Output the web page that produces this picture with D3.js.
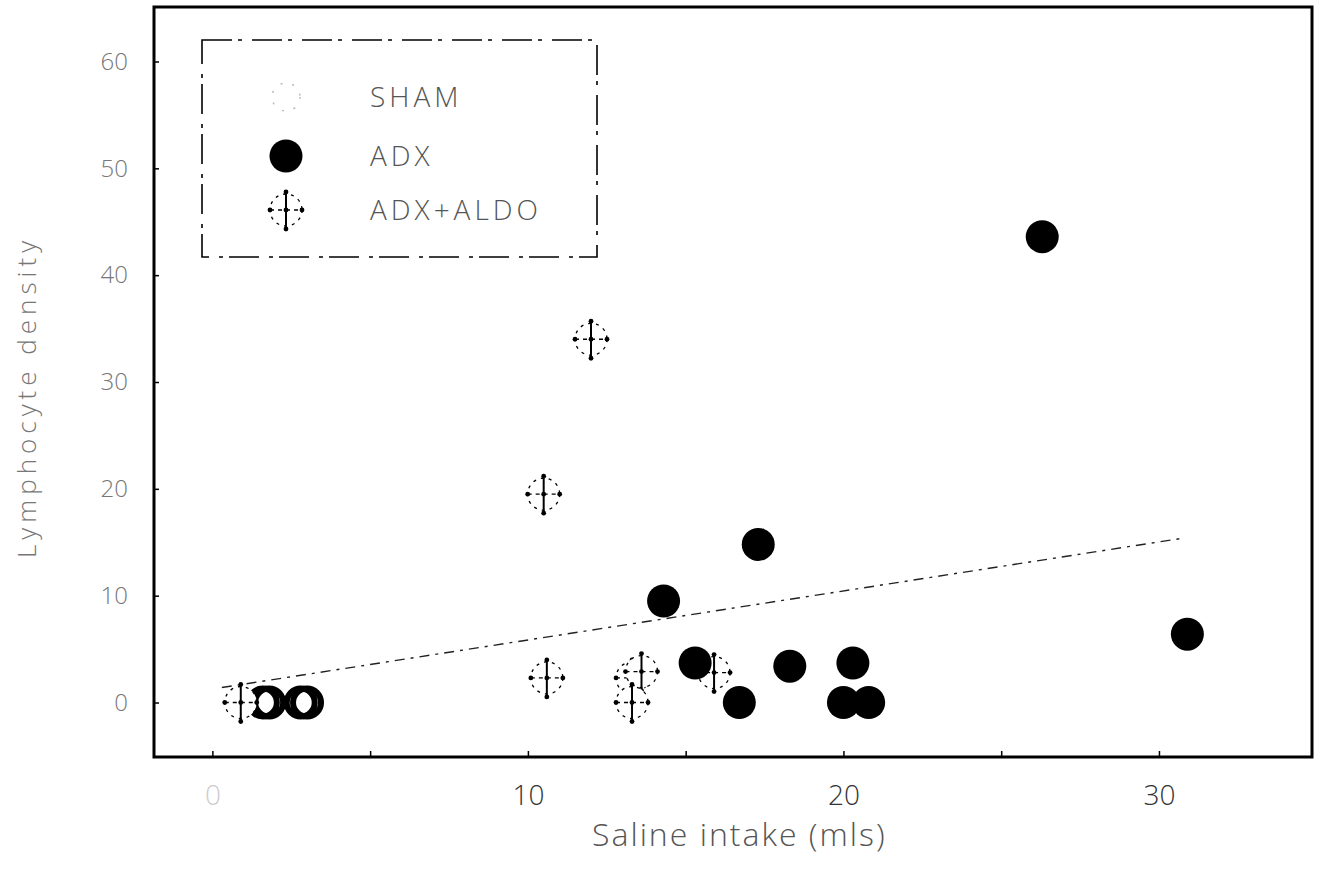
<!DOCTYPE html>
<meta charset="utf-8">
<style>
  body { margin: 0; background: #fff; }
  text { font-family: "Open Sans", "DejaVu Sans", sans-serif; font-weight: 300; fill: #444; }
  .frame { fill: none; stroke: #000; stroke-width: 3px; }
  .axis path { display: none; }
  .axis line { stroke: #000; stroke-width: 1.5px; }
  .axis text { font-size: 28px; }
</style>
<svg width="1321" height="874"></svg>
<script src="https://cdn.jsdelivr.net/npm/d3@7"></script>
<script>

// values
var shamX = [1.6, 1.8, 2.8, 3.0],
    shamY = [0, 0, 0, 0];

var adxX = [26.3, 30.9, 17.3, 14.3, 15.3, 16.7, 18.3, 20.3, 20.0, 20.8],
    adxY = [43.6, 6.4, 14.8, 9.5, 3.7, 0, 3.4, 3.7, 0, 0];

var aldoX = [12.0, 10.5, 10.6, 13.3, 13.6, 13.3, 15.9, 0.9],
    aldoY = [34.0, 19.5, 2.3, 2.3, 2.9, 0, 2.8, 0];

var fitX = [0.3, 30.8],
    fitY = [1.4, 15.4];

var xTicks = [0, 5, 10, 15, 20, 25, 30],
    xLabels = ["0", "", "10", "", "20", "", "30"];
var yTicks = [0, 10, 20, 30, 40, 50, 60],
    yLabels = ["0", "10", "20", "30", "40", "50", "60"];

var legendNames = ["SHAM", "ADX", "ADX+ALDO"];

var svg = d3.select("svg"),
    margin = {top: 7, right: 9, bottom: 117, left: 154},
    width = +svg.attr("width") - margin.left - margin.right,
    height = +svg.attr("height") - margin.top - margin.bottom,
    g = svg.append("g").attr("transform", "translate(" + margin.left + "," + margin.top + ")");

var x = d3.scaleLinear().domain([-1.85, 34.85]).range([0, width]);
var y = d3.scaleLinear().domain([-5.1, 65.1]).range([height, 0]);

g.append("g")
    .attr("class", "axis")
    .attr("transform", "translate(0," + height + ")")
    .call(d3.axisBottom(x).tickValues(xTicks).tickSize(-6).tickPadding(28)
        .tickFormat(function(d, i) { return xLabels[i]; }))
  .selectAll("text")
    .style("fill", function(d) { return d === 0 ? "#ccc" : "#333"; });

g.append("g")
    .attr("class", "axis")
    .call(d3.axisLeft(y).tickValues(yTicks).tickSize(-5).tickPadding(26)
        .tickFormat(function(d, i) { return yLabels[i]; }))
  .selectAll("text")
    .style("font-size", "24px")
    .style("fill", "#777");

g.append("rect")
    .attr("class", "frame")
    .attr("width", width)
    .attr("height", height);

// regression line
g.append("path")
    .datum(d3.zip(fitX, fitY))
    .attr("fill", "none")
    .attr("stroke", "#222")
    .attr("stroke-width", 1.4)
    .attr("stroke-dasharray", "10,6,3,6")
    .attr("d", d3.line().x(function(d) { return x(d[0]); }).y(function(d) { return y(d[1]); }));

function drawSham(sel) {
  sel.append("circle").attr("r", 14)
      .attr("fill", "none").attr("stroke", "#000").attr("stroke-width", 6);
}
function drawAdx(sel) {
  sel.append("circle").attr("r", 16.5).attr("fill", "#000");
}
function drawAldo(sel) {
  sel.append("circle").attr("r", 16)
      .attr("fill", "#fff").attr("stroke", "#000").attr("stroke-width", 1.3)
      .attr("stroke-dasharray", "3,5");
  sel.append("line").attr("x1", 0).attr("x2", 0).attr("y1", -18).attr("y2", 19)
      .attr("stroke", "#000").attr("stroke-width", 2);
  sel.append("line").attr("x1", -16).attr("x2", 16).attr("y1", 0).attr("y2", 0)
      .attr("stroke", "#000").attr("stroke-width", 1.3).attr("stroke-dasharray", "4,4");
  [[0, -18], [0, 0], [0, 19], [-16, 0], [16, 0]].forEach(function(p) {
    sel.append("circle").attr("cx", p[0]).attr("cy", p[1]).attr("r", 2.4).attr("fill", "#000");
  });
}

g.append("g").selectAll("g")
    .data(d3.zip(shamX, shamY))
  .enter().append("g")
    .attr("transform", function(d) { return "translate(" + x(d[0]) + "," + y(d[1]) + ")"; })
    .each(function() { drawSham(d3.select(this)); });

g.append("g").selectAll("g")
    .data(d3.zip(aldoX, aldoY))
  .enter().append("g")
    .attr("transform", function(d) { return "translate(" + x(d[0]) + "," + y(d[1]) + ")"; })
    .each(function() { drawAldo(d3.select(this)); });

g.append("g").selectAll("g")
    .data(d3.zip(adxX, adxY))
  .enter().append("g")
    .attr("transform", function(d) { return "translate(" + x(d[0]) + "," + y(d[1]) + ")"; })
    .each(function() { drawAdx(d3.select(this)); });

// legend
var legend = svg.append("g").attr("transform", "translate(202,40)");
legend.append("rect")
    .attr("width", 395).attr("height", 217)
    .attr("fill", "none").attr("stroke", "#000").attr("stroke-width", 1.6)
    .attr("stroke-dasharray", "30,6,4,10");

var rows = legend.selectAll("g.row")
    .data(legendNames)
  .enter().append("g")
    .attr("class", "row")
    .attr("transform", function(d, i) { return "translate(0," + [57, 116, 170][i] + ")"; });

rows.each(function(d, i) {
  var s = d3.select(this).append("g").attr("transform", "translate(84,0)");
  if (i === 0) {
    s.append("circle").attr("r", 14).attr("fill", "none")
        .attr("stroke", "#bbb").attr("stroke-width", 1.5).attr("stroke-dasharray", "2,10");
  } else if (i === 1) {
    drawAdx(s);
  } else {
    drawAldo(s);
  }
});

rows.append("text")
    .attr("x", 168)
    .attr("dy", "0.35em")
    .style("font-size", "28px")
    .style("letter-spacing", "4px")
    .style("fill", "#555")
    .text(function(d) { return d; });

// axis titles
svg.append("text")
    .attr("x", margin.left + x(16.7))
    .attr("y", 846)
    .attr("text-anchor", "middle")
    .style("font-size", "32px")
    .style("letter-spacing", "2px")
    .style("fill", "#555")
    .text("Saline intake (mls)");

svg.append("text")
    .attr("transform", "translate(36," + (margin.top + y(28.6)) + ") rotate(-90)")
    .attr("text-anchor", "middle")
    .style("font-size", "26px")
    .style("letter-spacing", "5px")
    .style("fill", "#777")
    .text("Lymphocyte density");

</script>
